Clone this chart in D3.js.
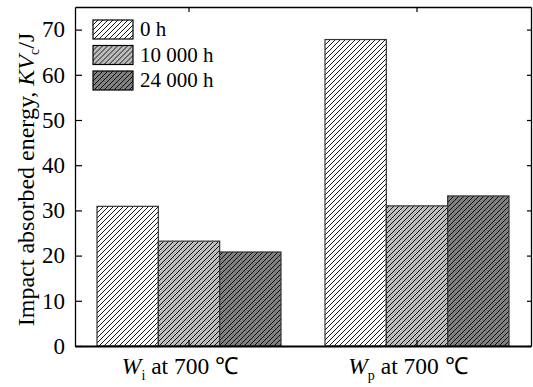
<!DOCTYPE html>
<html><head><meta charset="utf-8">
<script src="https://cdn.jsdelivr.net/npm/d3@7"></script>
</head><body style="margin:0">
<svg id="c" width="533" height="387"></svg>
<script>
const groups = ["Wi", "Wp"];
const series = ["0 h", "10 000 h", "24 000 h"];
const values0h = [30.9, 67.8];
const values10000h = [23.2, 31.0];
const values24000h = [20.8, 33.2];
const yTicks = [0, 10, 20, 30, 40, 50, 60, 70];
const groupSub = ["i", "p"];

const fills = ["#ffffff", "#bdbdbd", "#808080"];
const allVals = [values0h, values10000h, values24000h];

const W = 533, H = 387;
const m = {l: 75, r: 2, t: 7, b: 41};
const svg = d3.select("#c").style("font-family", '"Liberation Serif"');
const defs = svg.append("defs");
fills.forEach((f, i) => {
  const p = defs.append("pattern").attr("id", "h" + i).attr("patternUnits", "userSpaceOnUse")
    .attr("width", 5).attr("height", 5);
  p.append("rect").attr("width", 5).attr("height", 5).attr("fill", f);
  p.append("path").attr("d", "M-1,1 l2,-2 M0,5 l5,-5 M4,6 l2,-2").attr("stroke", "#000").attr("stroke-width", 0.9);
});

const x0 = d3.scaleBand().domain(groups).range([m.l, W - m.r]).paddingInner(0.193).paddingOuter(0.0965);
const x1 = d3.scaleBand().domain(series).range([0, x0.bandwidth()]);
const y = d3.scaleLinear().domain([0, 75]).range([H - m.b, m.t]);

const g = svg.append("g");
groups.forEach((gr, gi) => {
  series.forEach((s, si) => {
    const v = allVals[si][gi];
    g.append("rect").attr("x", x0(gr) + x1(s)).attr("y", y(v))
      .attr("width", x1.bandwidth()).attr("height", y(0) - y(v))
      .attr("fill", `url(#h${si})`).attr("stroke", "#333").attr("stroke-width", 1.2);
  });
});

function txt(sel, size) {
  return sel.style("font-family", '"Liberation Serif"').style("font-size", size + "px");
}

// axes
const axL = svg.append("g").attr("transform", `translate(${m.l},0)`)
  .call(d3.axisLeft(y).tickValues(yTicks).tickSizeInner(-7).tickSizeOuter(0).tickPadding(10));
const axR = svg.append("g").attr("transform", `translate(${W - m.r},0)`)
  .call(d3.axisRight(y).tickValues(yTicks).tickSizeInner(-4).tickSizeOuter(0).tickFormat(""));
const axB = svg.append("g").attr("transform", `translate(0,${H - m.b})`)
  .call(d3.axisBottom(x0).tickSizeInner(-6).tickSizeOuter(0).tickFormat(""));
const axT = svg.append("g").attr("transform", `translate(0,${m.t})`)
  .call(d3.axisTop(x0).tickSizeInner(-5).tickSizeOuter(0).tickFormat(""));
[axL, axR, axB, axT].forEach(a => {
  a.attr("font-family", null).attr("font-size", null);
  a.selectAll("path.domain").attr("stroke", "#000").attr("stroke-width", 1.3);
  a.selectAll(".tick line").attr("stroke", "#000").attr("stroke-width", 1.2);
});
axB.select("path.domain").attr("stroke-width", 2.2);
txt(axL.selectAll(".tick text"), 23).attr("fill", "#000");

// x labels
groups.forEach((gr, gi) => {
  const t = txt(svg.append("text"), 23.5).attr("x", x0(gr) + x0.bandwidth() / 2 - 9).attr("y", 374)
    .attr("text-anchor", "middle");
  t.append("tspan").attr("font-style", "italic").text("W");
  t.append("tspan").attr("dy", 6).style("font-size", "14px").text(groupSub[gi]);
  t.append("tspan").attr("dy", -6).text(" at 700 \u2103");
});

// y label
const yl = txt(svg.append("text"), 24).attr("transform", `translate(34,${(m.t + H - m.b) / 2 + 3}) rotate(-90)`)
  .attr("text-anchor", "middle");
yl.append("tspan").text("Impact absorbed energy, ");
yl.append("tspan").attr("font-style", "italic").text("KV");
yl.append("tspan").attr("dy", 5).style("font-size", "14px").text("c");
yl.append("tspan").attr("dy", -5).text("/J");

// legend
const lg = svg.append("g").attr("transform", "translate(93,20)");
series.forEach((s, i) => {
  const r = lg.append("g").attr("transform", `translate(0,${i * 25.5})`);
  r.append("rect").attr("width", 40).attr("height", 19).attr("fill", `url(#h${i})`)
    .attr("stroke", "#000").attr("stroke-width", 1.2);
  txt(r.append("text"), 21).attr("x", 47).attr("y", 16).text(s);
});
</script></body></html>
